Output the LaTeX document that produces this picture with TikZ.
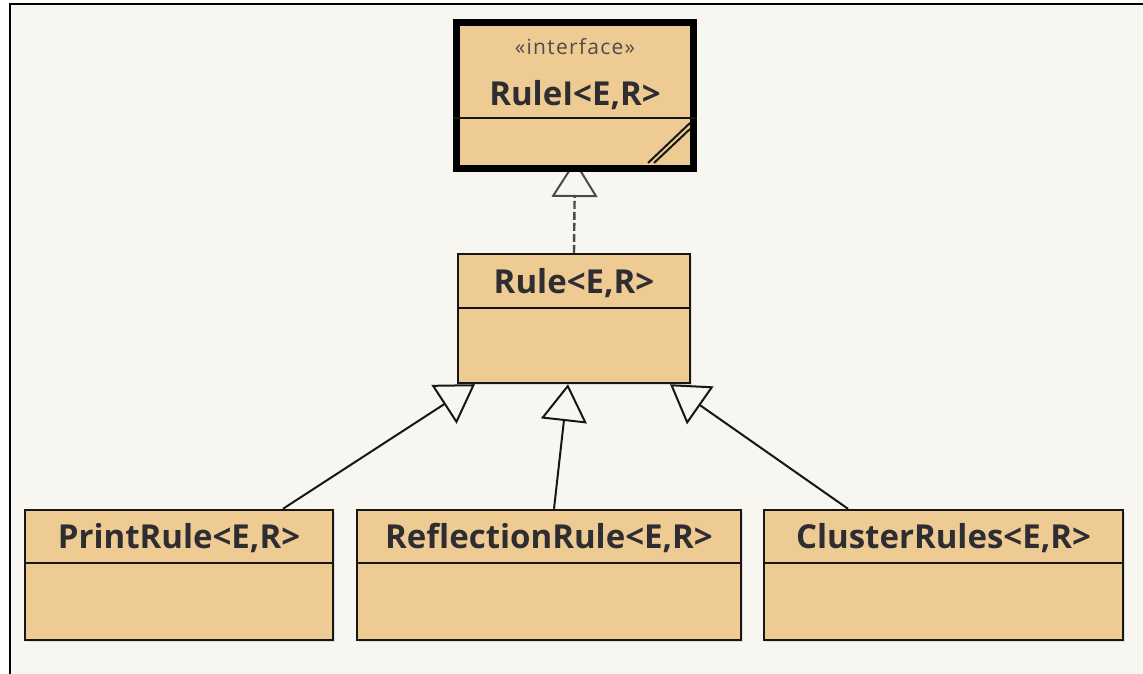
\documentclass[tikz,border=0pt]{standalone}
\usepackage{fontspec}
\setmainfont{Open Sans}
\usetikzlibrary{arrows.meta,shadows,calc}

\definecolor{paper}{RGB}{247,246,241}
\definecolor{classfill}{RGB}{239,203,148}
\definecolor{ink}{RGB}{22,22,22}
\definecolor{txt}{RGB}{45,45,50}
\definecolor{stereotxt}{RGB}{80,74,72}
\definecolor{linkgray}{RGB}{75,75,75}

\pgfdeclarelayer{backdrop}
\pgfdeclarelayer{edges}
\pgfsetlayers{backdrop,edges,main}

\begin{document}
\begin{tikzpicture}[x=1pt,y=1pt,
  classbox/.style={draw=ink, line width=2.4pt, fill=classfill, inner sep=0pt,
    drop shadow={opacity=0.22, shadow xshift=2pt, shadow yshift=-2pt}},
  classtitle/.style={font=\fontsize{33}{36}\selectfont\bfseries, text=txt, inner sep=0pt},
  stereotype/.style={font=\fontsize{21}{24}\selectfont\addfontfeature{LetterSpace=6}, text=stereotxt, inner sep=0pt},
  divider/.style={draw=ink, line width=2.4pt},
  generalize/.style={draw=ink, line width=2pt, -{Triangle[open, length=37pt, width=46pt, line width=2pt]}},
  realize/.style={generalize, draw=linkgray, line width=2.4pt, dash pattern=on 8pt off 3pt}
]
\useasboundingbox (0,0) rectangle (1143,674);

% page and frame
\begin{pgfonlayer}{backdrop}
  \fill[white] (0,0) rectangle (1143,674);
  \fill[paper] (10,0) rectangle (1143,670);
  \draw[black, line width=2.8pt] (10,0) -- (10,670) -- (1143,670);
\end{pgfonlayer}

% interface
\node[classbox, draw=black, line width=7pt, minimum width=237pt, minimum height=146pt] (rulei) at (575,578.5) {};
\node[stereotype] (ruleistereo) at (575,627) {«interface»};
\node[classtitle] (ruleiname) at (575,579) {RuleI<E,R>};
\draw[divider] (rulei.west |- 0,555.7) -- (rulei.east |- 0,555.7);
\draw[ink, line width=2pt] (648,511) -- (690,551);
\draw[ink, line width=2pt] (654,511) -- (690,545);

% abstract base
\node[classbox, minimum width=232pt, minimum height=129pt] (rule) at (574,355.5) {};
\node[classtitle] (rulename) at (574,391) {Rule<E,R>};
\draw[divider] (rule.west |- 0,366) -- (rule.east |- 0,366);

% concrete rules
\node[classbox, minimum width=308pt, minimum height=130pt] (print) at (179,99) {};
\node[classtitle] (printname) at (179,136) {PrintRule<E,R>};
\draw[divider] (print.west |- 0,111) -- (print.east |- 0,111);

\node[classbox, minimum width=384pt, minimum height=130pt] (refl) at (549,99) {};
\node[classtitle] (reflname) at (549,136) {ReflectionRule<E,R>};
\draw[divider] (refl.west |- 0,111) -- (refl.east |- 0,111);

\node[classbox, minimum width=359pt, minimum height=130pt] (clus) at (943.5,99) {};
\node[classtitle] (clusname) at (943.5,136) {ClusterRules<E,R>};
\draw[divider] (clus.west |- 0,111) -- (clus.east |- 0,111);

% relations
\begin{pgfonlayer}{edges}
  \draw[realize] (rule.north) -- ([yshift=12pt]rulei.south);
  \draw[generalize] ([xshift=104pt]print.north) -- ([xshift=-99pt]rule.south);
  \draw[generalize] ([xshift=5pt]refl.north) -- ([xshift=-6pt]rule.south);
  \draw[generalize] ([xshift=-95.5pt]clus.north) -- ([xshift=96pt]rule.south);
\end{pgfonlayer}
\end{tikzpicture}
\end{document}
